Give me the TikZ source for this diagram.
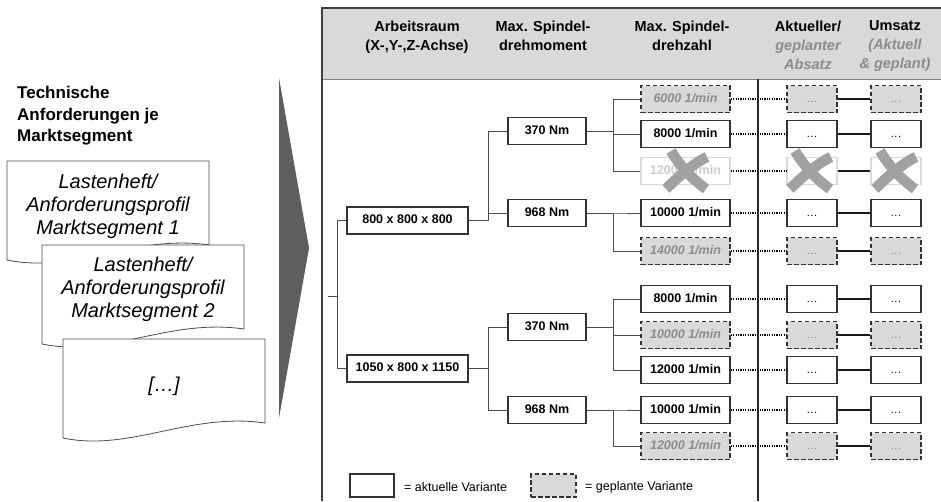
\documentclass[tikz,border=0pt]{standalone}
\usepackage{fontspec}
\setmainfont{Liberation Sans}
\newcommand\celldots{.\kern0.5pt.\kern0.5pt.}

\begin{document}
\begin{tikzpicture}[x=1pt, y=-1pt,
    act box/.style={draw=black!80, line width=1.5pt, fill=white, minimum width=89pt, minimum height=27pt,
        inner sep=0pt, text height=9pt, text depth=2.5pt, font=\fontsize{12.5}{15}\selectfont\bfseries},
    plan box/.style={act box, fill=black!15, dash pattern=on 4.5pt off 2.5pt, text=black!45,
        font=\fontsize{12.5}{15}\selectfont\bfseries\itshape},
    gone box/.style={act box, draw=black!15, text=black!20},
    act cell/.style={act box, minimum width=50pt, font=\fontsize{11}{13}\selectfont},
    plan cell/.style={plan box, minimum width=50pt, font=\fontsize{11}{13}\selectfont},
    gone cell/.style={gone box, minimum width=50pt},
    branch/.style={black!70, line width=0.9pt},
    dotline/.style={black, line width=1.3pt, dash pattern=on 1.3pt off 1.1pt},
    cellline/.style={black!90, line width=1.5pt},
    head/.style={align=center, anchor=north, inner sep=0pt, font=\fontsize{14.5}{19}\selectfont\bfseries},
    doc/.style={draw=black!70, line width=0.8pt, fill=white},
    doctext/.style={align=center, font=\fontsize{20}{23}\selectfont\itshape},
    xmark/.style={black!37, line width=10.5pt}]

    \useasboundingbox (0,0) rectangle (941,501);

    % 1. Kopfzeile der Tabelle
    \fill[black!15] (322,8) rectangle (941,79);
    \draw[black!50, line width=0.8pt] (322,79) -- (941,79);
    \draw[black!75, line width=1.5pt] (941,8) -- (322,8) -- (322,501);
    \node[head] (h1) at (417,20.5) {Arbeitsraum\\(X-,Y-,Z-Achse)};
    \node[head] (h2) at (543,20.5) {Max. Spindel-\\drehmoment};
    \node[head] (h3) at (682,20.5) {Max. Spindel-\\drehzahl};
    \node[head] (h4) at (808,20.5) {Aktueller/\\\textcolor{black!45}{\itshape geplanter}\\\textcolor{black!45}{\itshape Absatz}};
    \node[head] (h5) at (895,20.5) {Umsatz\\\textcolor{black!45}{\itshape (Aktuell}\\\textcolor{black!45}{\itshape \& geplant)}};

    % 2. Linke Seite: Lastenhefte
    \node[anchor=north west, align=left, inner sep=0pt, font=\fontsize{17}{21.5}\selectfont\bfseries] (title)
        at (17,86) {Technische\\Anforderungen je\\Marktsegment};
    \foreach \dx/\dy in {7/161, 42/245, 63/339}
        \filldraw[doc] (\dx,\dy) -- (\dx+202,\dy) -- (\dx+202,\dy+84)
            .. controls (\dx+127,\dy+73) and (\dx+67,\dy+113) .. (\dx,\dy+99) -- cycle;
    \node[doctext] (d1) at (108,206) {Lastenheft/\\Anforderungsprofil\\Marktsegment 1};
    \node[doctext] (d2) at (143,289) {Lastenheft/\\Anforderungsprofil\\Marktsegment 2};
    \node[doctext] (d3) at (164,386) {[…]};

    % 3. Pfeil
    \fill[black!63] (279,78) -- (309,248) -- (279,418) -- cycle;

    % 4. Arbeitsraum und Drehmoment
    \node[act box, minimum width=121pt] (wa) at (407.5,220.5) {800 x 800 x 800};
    \node[act box, minimum width=121pt] (wb) at (407.5,368.5) {1050 x 800 x 1150};
    \node[act box, minimum width=78pt] (ta) at (547,131) {370 Nm};
    \node[act box, minimum width=78pt] (tb) at (547,213) {968 Nm};
    \node[act box, minimum width=78pt] (tc) at (547,327) {370 Nm};
    \node[act box, minimum width=78pt] (td) at (547,410) {968 Nm};
    \coordinate (root) at (328,296);
    \foreach \c in {wa,wb}
        \draw[branch] (root) -- ++(9,0) |- (\c.west);
    \foreach \p/\c in {wa/ta, wa/tb, wb/tc, wb/td}
        \draw[branch] (\p.east) -- ++(20,0) |- (\c.west);

    % 5. Drehzahl, Absatz, Umsatz
    \foreach \y/\txt/\kind/\cell [count=\i] in {
        99/{6000 1/min}/plan/{\celldots}, 134/{8000 1/min}/act/{\celldots}, 171/{12000 1/min}/gone/{},
        213/{10000 1/min}/act/{\celldots}, 251/{14000 1/min}/plan/{\celldots}, 299/{8000 1/min}/act/{\celldots},
        335/{10000 1/min}/plan/{\celldots}, 370/{12000 1/min}/act/{\celldots}, 410/{10000 1/min}/act/{\celldots},
        446/{12000 1/min}/plan/{\celldots}} {
        \node[\kind\space box] (n\i) at (685.5,\y) {\txt};
        \node[\kind\space cell] (a\i) at (812,\y) {\cell};
        \node[\kind\space cell] (u\i) at (896,\y) {\cell};
        \draw[dotline] (n\i) -- (a\i);
        \draw[cellline] (a\i) -- (u\i);
    }
    \foreach \p/\c in {ta/1, ta/2, ta/3, tb/4, tb/5, tc/6, tc/7, tc/8, td/9, td/10}
        \draw[branch] (\p.east) -- ++(27,0) |- (n\c.west);

    % 6. Gestrichene Variante
    \foreach \cx in {686,810,895} {
        \draw[xmark] (\cx-15,151) .. controls (\cx-6,166) and (\cx+6,179) .. (\cx+20,189);
        \draw[xmark] (\cx+21,157) .. controls (\cx+8,163) and (\cx-8,177) .. (\cx-20,189);
    }

    % 7. Trennlinie
    \draw[black!85, line width=2.2pt] (758,79) -- (758,501);

    % 8. Legende
    \node[act box, minimum width=44pt, minimum height=23pt] (lga) at (372,485.5) {};
    \node[anchor=west, inner sep=0pt, font=\fontsize{12.5}{15}\selectfont] (lgat) at (404,487) {= aktuelle Variante};
    \node[plan box, minimum width=45pt, minimum height=23pt] (lgb) at (553.5,485.5) {};
    \node[anchor=west, inner sep=0pt, font=\fontsize{12.5}{15}\selectfont] (lgbt) at (585,487) {= geplante Variante};
\end{tikzpicture}
\end{document}
